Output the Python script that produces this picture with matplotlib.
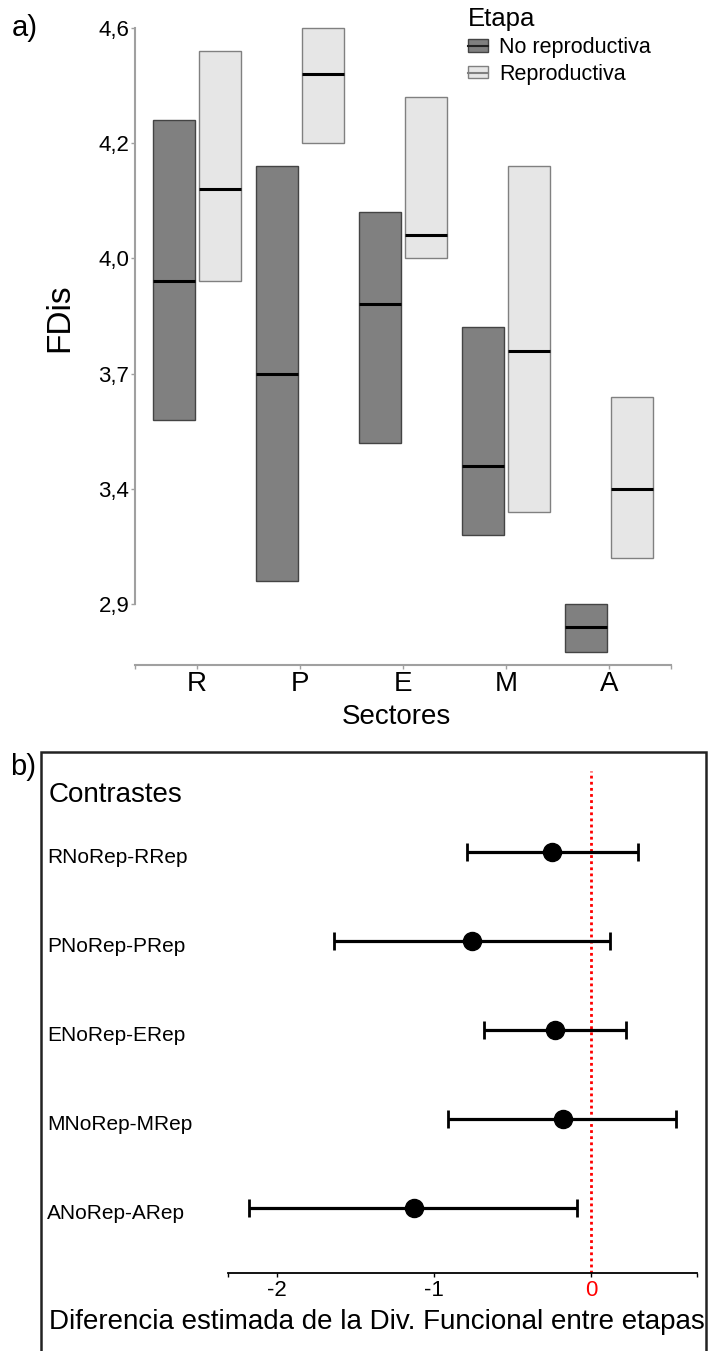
import numpy as np
import matplotlib
matplotlib.use("Agg")
import matplotlib.pyplot as plt
from matplotlib.patches import Patch, Rectangle
from matplotlib.lines import Line2D
from matplotlib.transforms import blended_transform_factory

plt.rcParams['font.family'] = ['Liberation Sans', 'DejaVu Sans']

# panel a: FDis per sector and stage (box low, median, high)
sectores = ['R', 'P', 'E', 'M', 'A']
norep_low = [3.58, 3.00, 3.52, 3.20, 2.69]
norep_med = [3.94, 3.70, 3.88, 3.46, 2.80]
norep_high = [4.28, 4.16, 4.08, 3.82, 2.90]
rep_low = [3.94, 4.20, 4.00, 3.30, 3.10]
rep_med = [4.12, 4.44, 4.04, 3.76, 3.40]
rep_high = [4.52, 4.60, 4.36, 4.16, 3.64]

y_ticks = [2.9, 3.4, 3.7, 4.0, 4.2, 4.6]
y_ticklabels = ['2,9', '3,4', '3,7', '4,0', '4,2', '4,6']

# panel b: contrasts NoRep - Rep
contrastes = ['RNoRep-RRep', 'PNoRep-PRep', 'ENoRep-ERep', 'MNoRep-MRep', 'ANoRep-ARep']
dif = [-0.25, -0.76, -0.23, -0.18, -1.13]
dif_low = [-0.79, -1.64, -0.68, -0.91, -2.18]
dif_high = [0.30, 0.12, 0.22, 0.54, -0.09]

W, H = 712, 1351
def fx(px):
    return px / W
def fy(py):
    return 1 - py / H

fig = plt.figure(figsize=(W / 100, H / 100), dpi=100)

# y axis of panel a: ticks are evenly spaced although values are not
knot_v = [2.4] + y_ticks + [5.0]
knot_p = list(range(-1, len(y_ticks) + 1))
def fwd(v):
    return np.interp(v, knot_v, knot_p)
def inv(p):
    return np.interp(p, knot_p, knot_v)

ax1 = fig.add_axes([fx(135), fy(665), (671 - 135) / W, (665 - 28) / H])
ax1.set_yscale('function', functions=(fwd, inv))
ax1.set_ylim(2.635, 4.6)
ax1.set_xlim(0.4, 5.6)

x = np.arange(1, len(sectores) + 1)
w = 0.41
off = 0.222
c_dark, c_light = '#808080', '#e6e6e6'
for i in range(len(sectores)):
    ax1.bar(x[i] - off, norep_high[i] - norep_low[i], bottom=norep_low[i], width=w,
            color=c_dark, edgecolor='#444444', linewidth=1, clip_on=False, zorder=2)
    ax1.bar(x[i] + off, rep_high[i] - rep_low[i], bottom=rep_low[i], width=w,
            color=c_light, edgecolor='#808080', linewidth=1, clip_on=False, zorder=2)
ax1.hlines(norep_med, x - off - w / 2, x - off + w / 2, color='black', lw=2.2, zorder=3)
ax1.hlines(rep_med, x + off - w / 2, x + off + w / 2, color='black', lw=2.2, zorder=3)

for s in ['top', 'right']:
    ax1.spines[s].set_visible(False)
for s in ['left', 'bottom']:
    ax1.spines[s].set_color('#a0a0a0')
    ax1.spines[s].set_linewidth(1.5)
ax1.spines['left'].set_bounds(2.9, 4.6)

ax1.set_yticks(y_ticks)
ax1.set_yticklabels(y_ticklabels)
ax1.minorticks_off()
ax1.set_xticks(x)
ax1.set_xticklabels(sectores)
ax1.set_xticks([0.4, 5.6], minor=True)
ax1.tick_params(axis='y', labelsize=16, length=3, width=1, color='#a0a0a0', pad=1)
ax1.tick_params(axis='x', which='both', labelsize=20, length=3, width=1, color='#a0a0a0', pad=1)
fig.text(fx(60), fy(318), 'FDis', fontsize=24, rotation=90, ha='center', va='center')
fig.text(fx(396), fy(717), 'Sectores', fontsize=20, ha='center', va='center')
fig.text(fx(12), fy(28), 'a)', fontsize=21, ha='left', va='center')

h_norep = (Patch(facecolor=c_dark, edgecolor='#444444'), Line2D([], [], color='#222222', lw=1.5))
h_rep = (Patch(facecolor=c_light, edgecolor='#808080'), Line2D([], [], color='#808080', lw=1.5))
leg = ax1.legend([h_norep, h_rep], ['No reproductiva', 'Reproductiva'], title='Etapa',
                 loc='upper left', bbox_to_anchor=(fx(468), fy(7)),
                 bbox_transform=fig.transFigure, frameon=False, fontsize=15.5,
                 title_fontsize=18.5, handlelength=0.95, handleheight=0.55,
                 handletextpad=0.5, labelspacing=0.27, borderpad=0, borderaxespad=0,
                 alignment='left')

# panel b
ax2 = fig.add_axes([fx(228), fy(1273), (697 - 228) / W, (1273 - 752) / H])
yp = np.arange(len(contrastes))[::-1] + 1
ax2.set_xlim(-2.312, 0.675)
ax2.set_ylim(0.27, 6.124)
ax2.plot([0, 0], [0.27, 5.91], color='red', ls=(0, (1, 1.2)), lw=2, zorder=1)
err = [np.array(dif) - np.array(dif_low), np.array(dif_high) - np.array(dif)]
ax2.errorbar(dif, yp, xerr=err, fmt='o', color='black', ms=13, elinewidth=2.3,
             capsize=6.5, capthick=2, zorder=3)
for s in ['top', 'right', 'left']:
    ax2.spines[s].set_visible(False)
ax2.spines['bottom'].set_linewidth(1.3)
ax2.set_yticks([])
ax2.set_xticks([-2, -1, 0])
ax2.set_xticklabels(['-2', '-1', '0'])
ax2.get_xticklabels()[2].set_color('red')
ax2.set_xticks([-2.312, 0.675], minor=True)
ax2.tick_params(axis='x', which='both', labelsize=16, length=3, width=1, pad=2)

tr = blended_transform_factory(fig.transFigure, ax2.transData)
for lab, y in zip(contrastes, yp):
    ax2.text(fx(47), y - 0.12, lab, transform=tr, fontsize=15, ha='left', va='baseline')
fig.text(fx(49), fy(802), 'Contrastes', fontsize=20, ha='left', va='baseline')
fig.text(fx(49), fy(1329), 'Diferencia estimada de la Div. Funcional entre etapas',
         fontsize=20, ha='left', va='baseline')
fig.text(fx(10), fy(767), 'b)', fontsize=21, ha='left', va='center')

frame = Rectangle((fx(41), fy(1400)), (706 - 41) / W, (1400 - 752) / H,
                  transform=fig.transFigure, fill=False, lw=1.8, edgecolor='#222222',
                  clip_on=False, zorder=10)
fig.add_artist(frame)

fig.savefig('out.png', dpi=100)
